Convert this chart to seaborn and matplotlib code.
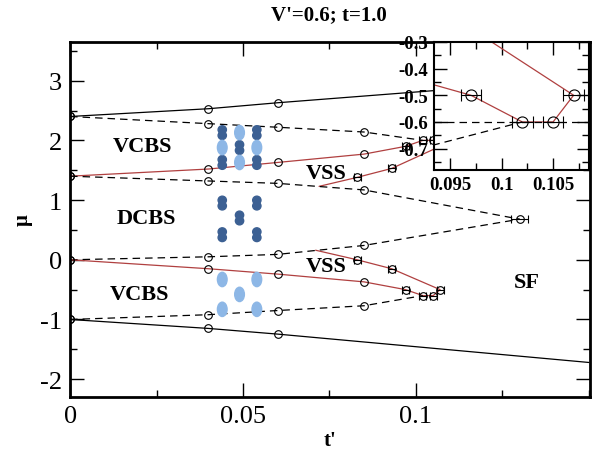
"""Phase diagram mu vs t' at V'=0.6, t=1.0 with zoomed inset."""

import matplotlib

matplotlib.use("Agg")
import matplotlib.pyplot as plt
import numpy as np
import seaborn as sns
from matplotlib.patches import Ellipse
from matplotlib.ticker import MultipleLocator

# --- phase boundaries (t', mu) ---
top_solid_t = [0.0, 0.04, 0.06, 0.12]
top_solid_mu = [2.4, 2.53, 2.63, 2.9]

vcbs_top_dash_t = [0.0, 0.04, 0.06, 0.085, 0.102]
vcbs_top_dash_mu = [2.4, 2.28, 2.22, 2.14, 2.0]

vss_up_red_t = [0.0, 0.04, 0.06, 0.085, 0.097, 0.102, 0.105, 0.107, 0.093, 0.083, 0.072]
vss_up_red_mu = [1.4, 1.52, 1.63, 1.77, 1.9, 2.0, 2.0, 1.9, 1.53, 1.38, 1.23]

dcbs_top_dash_t = [0.0, 0.04, 0.06, 0.085, 0.13]
dcbs_top_dash_mu = [1.4, 1.32, 1.28, 1.17, 0.68]

dcbs_bot_dash_t = [0.0, 0.04, 0.06, 0.085, 0.13]
dcbs_bot_dash_mu = [0.0, 0.05, 0.09, 0.24, 0.68]

vss_lo_red_t = [0.0, 0.04, 0.06, 0.085, 0.097, 0.102, 0.105, 0.107, 0.093, 0.083, 0.071]
vss_lo_red_mu = [0.0, -0.15, -0.24, -0.37, -0.5, -0.6, -0.6, -0.5, -0.15, 0.0, 0.16]

vcbs_bot_dash_t = [0.0, 0.04, 0.06, 0.085, 0.102]
vcbs_bot_dash_mu = [-1.0, -0.92, -0.85, -0.77, -0.6]

bot_solid_t = [0.0, 0.04, 0.06, 0.15]
bot_solid_mu = [-1.0, -1.15, -1.245, -1.72]

# points carrying error bars in t'
err_t = [0.083, 0.093, 0.097, 0.102, 0.105, 0.107,
         0.083, 0.093, 0.097, 0.102, 0.105, 0.107, 0.13]
err_mu = [1.38, 1.53, 1.9, 2.0, 2.0, 1.9,
          0.0, -0.15, -0.5, -0.6, -0.6, -0.5, 0.68]
err_dt = [0.001] * 12 + [0.0025]

# cartoon lattice icons
icon_cols = [0.044, 0.049, 0.054]
dark_pairs = [(0, 2.13), (2, 2.13), (1, 1.88), (0, 1.63), (2, 1.63),
              (0, 0.95), (2, 0.95), (1, 0.7), (0, 0.42), (2, 0.42)]
light_blobs = [(1, 2.13), (0, 1.88), (2, 1.88), (1, 1.63),
               (0, -0.33), (2, -0.33), (1, -0.58), (0, -0.83), (2, -0.83)]

phase_labels = ["VCBS", "DCBS", "VCBS", "VSS", "VSS", "SF"]
label_t = [0.021, 0.022, 0.020, 0.074, 0.074, 0.132]
label_mu = [1.9, 0.7, -0.58, 1.45, -0.1, -0.38]

RED = "#b04040"
DARK = "#3c6093"
LIGHT = "#8db7e6"

sns.set_theme(style="ticks")
plt.rcParams["font.family"] = ["Liberation Serif", "DejaVu Serif"]
plt.rcParams["axes.unicode_minus"] = False
for key in ("text.color", "axes.labelcolor", "axes.edgecolor",
            "xtick.color", "ytick.color"):
    plt.rcParams[key] = "black"

curves = [
    (top_solid_t, top_solid_mu, "black", "-", 3),
    (vcbs_top_dash_t, vcbs_top_dash_mu, "black", (0, (6, 4)), 4),
    (vss_up_red_t, vss_up_red_mu, RED, "-", 4),
    (dcbs_top_dash_t, dcbs_top_dash_mu, "black", (0, (6, 4)), 4),
    (dcbs_bot_dash_t, dcbs_bot_dash_mu, "black", (0, (6, 4)), 4),
    (vss_lo_red_t, vss_lo_red_mu, RED, "-", 4),
    (vcbs_bot_dash_t, vcbs_bot_dash_mu, "black", (0, (6, 4)), 4),
    (bot_solid_t, bot_solid_mu, "black", "-", 3),
]


def draw_curves(ax, ms, capsize):
    for t, mu, color, ls, n_mark in curves:
        sns.lineplot(x=t, y=mu, sort=False, estimator=None, color=color,
                     linestyle=ls, lw=0.9, ax=ax)
        ax.plot(t[:n_mark], mu[:n_mark], "o", ms=ms, mfc="none", mec="black",
                mew=0.8, zorder=4)
    ax.errorbar(err_t, err_mu, xerr=err_dt, fmt="o", ms=ms, mfc="none",
                mec="black", mew=0.8, ecolor="black", elinewidth=0.8,
                capsize=capsize, capthick=0.8, zorder=5)


fig = plt.figure(figsize=(5.94, 4.56), dpi=100)
ax = fig.add_axes([0.118, 0.127, 0.875, 0.779])
draw_curves(ax, ms=5.5, capsize=3)

for c, mu in dark_pairs:
    for off in (-0.048, 0.048):
        ax.add_patch(Ellipse((icon_cols[c], mu + off), 0.0024, 0.135,
                             color=DARK, zorder=3))
for c, mu in light_blobs:
    ax.add_patch(Ellipse((icon_cols[c], mu), 0.0028, 0.24, color=LIGHT,
                         zorder=3))

for lab, t, mu in zip(phase_labels, label_t, label_mu):
    ax.text(t, mu, lab, ha="center", va="center", fontsize=16,
            fontweight="bold")

ax.set_xlim(0, 0.1503)
ax.set_ylim(-2.3, 3.65)
ax.set_xticks([0, 0.05, 0.1])
ax.set_xticklabels(["0", "0.05", "0.1"])
ax.set_yticks(np.arange(-2, 4))
ax.xaxis.set_minor_locator(MultipleLocator(0.025))
ax.yaxis.set_minor_locator(MultipleLocator(0.5))
ax.tick_params(which="both", direction="in", top=True, right=True,
               width=1, labelsize=19, pad=6)
ax.tick_params(which="major", length=10)
ax.tick_params(which="minor", length=5)
for sp in ax.spines.values():
    sp.set_linewidth(2)
ax.set_xlabel("t'", fontsize=15, fontweight="bold", labelpad=2)
ax.set_ylabel("\u03bc", fontsize=15, fontweight="bold", labelpad=5)
fig.text(0.553, 0.967, "V'=0.6; t=1.0", ha="center", va="center",
         fontsize=15, fontweight="bold")

# --- inset: lower VSS tip ---
ins = fig.add_axes([0.7306, 0.625, 0.261, 0.281])
ins.set_facecolor("white")
draw_curves(ins, ms=8, capsize=4)
ins.axhline(-0.6, color="black", lw=0.9, linestyle=(0, (6, 4)))
ins.set_xlim(0.0934, 0.1085)
ins.set_ylim(-0.78, -0.3)
ins.set_xticks([0.095, 0.1, 0.105])
ins.set_xticklabels(["0.095", "0.1", "0.105"])
ins.set_yticks([-0.7, -0.6, -0.5, -0.4, -0.3])
ins.set_yticklabels(["-0.7", "-0.6", "-0.5", "-0.4", "-0.3"])
ins.xaxis.set_minor_locator(MultipleLocator(0.0025))
ins.yaxis.set_minor_locator(MultipleLocator(0.05))
ins.tick_params(which="both", direction="in", top=True, right=True,
                width=1, labelsize=13.5, pad=4)
ins.tick_params(which="major", length=9)
ins.tick_params(which="minor", length=5)
for lbl in ins.get_xticklabels() + ins.get_yticklabels():
    lbl.set_fontweight("bold")
for sp in ins.spines.values():
    sp.set_linewidth(1.5)
ins.set_xlabel("")
ins.set_ylabel("")

fig.savefig("out.png", dpi=100)
